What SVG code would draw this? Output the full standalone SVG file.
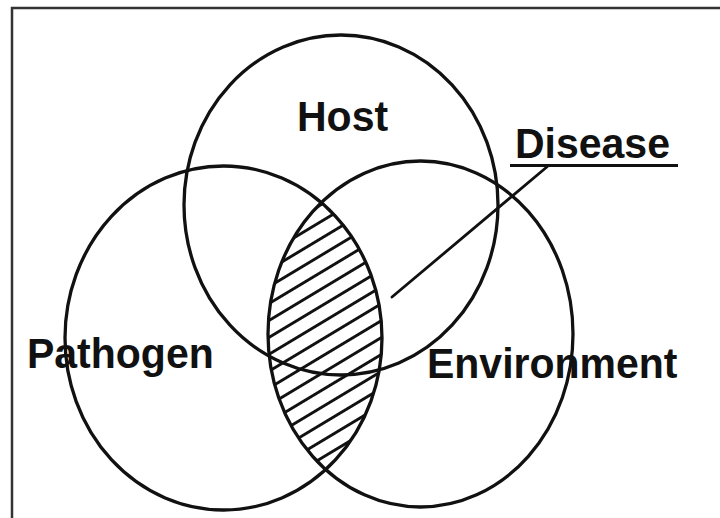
<svg xmlns="http://www.w3.org/2000/svg" width="720" height="518" viewBox="0 0 720 518">
  <style>
    .ring { fill: none; stroke: #111; stroke-width: 3.3; }
    .lbl { font-family: "Liberation Sans", Arial, sans-serif; font-weight: bold; font-size: 41px; fill: #111; }
    .conn { fill: none; stroke: #111; stroke-width: 2.8; stroke-linecap: round; }
  </style>
  <defs>
    <pattern id="hatch" patternUnits="userSpaceOnUse" width="40" height="14.5" patternTransform="rotate(-31)">
      <line x1="0" y1="7.25" x2="40" y2="7.25" stroke="#111" stroke-width="3"/>
    </pattern>
    <clipPath id="clipPath">
      <ellipse cx="223.5" cy="338" rx="158.5" ry="172"/>
    </clipPath>
  </defs>
  <rect width="720" height="518" fill="#fff"/>
  <g id="frame">
    <rect x="12" y="8" width="730" height="530" fill="none" stroke="#333" stroke-width="2.5"/>
  </g>
  <g id="overlap">
    <ellipse cx="420.5" cy="334" rx="152.5" ry="173" fill="url(#hatch)" clip-path="url(#clipPath)"/>
  </g>
  <g id="host">
    <ellipse class="ring" cx="341" cy="205" rx="157" ry="170"/>
    <text class="lbl" x="297" y="131" transform="translate(0 131) scale(1 1.06) translate(0 -131)">Host</text>
  </g>
  <g id="pathogen">
    <ellipse class="ring" cx="223.5" cy="338" rx="158.5" ry="172"/>
    <text class="lbl" x="27" y="368" transform="translate(0 368) scale(1 1.06) translate(0 -368)">Pathogen</text>
  </g>
  <g id="environment">
    <ellipse class="ring" cx="420.5" cy="334" rx="152.5" ry="173"/>
    <text class="lbl" x="427" y="378" transform="translate(0 378) scale(1 1.06) translate(0 -378)">Environment</text>
  </g>
  <g id="disease">
    <text class="lbl" x="515" y="158" transform="translate(0 158) scale(1 1.06) translate(0 -158)">Disease</text>
    <line x1="510" y1="165.5" x2="678" y2="165.5" stroke="#111" stroke-width="3"/>
  </g>
  <g id="connectors">
    <line class="conn" x1="392" y1="297" x2="548" y2="166"/>
  </g>
</svg>
